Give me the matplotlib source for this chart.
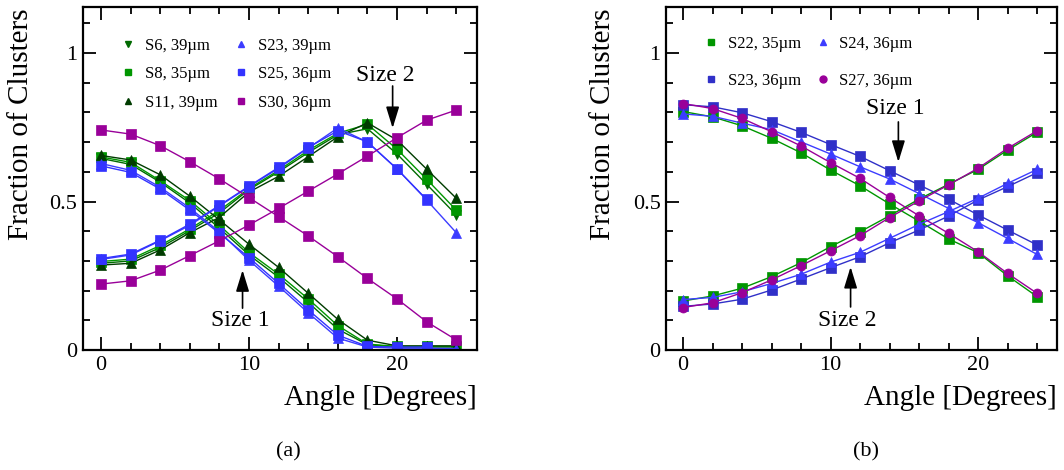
import numpy as np
import matplotlib
matplotlib.use("Agg")
import matplotlib.pyplot as plt
from matplotlib.lines import Line2D
from matplotlib.ticker import MultipleLocator

plt.rcParams['font.family'] = ['Liberation Serif', 'DejaVu Serif']

# angles in degrees
angles = [0, 2, 4, 6, 8, 10, 12, 14, 16, 18, 20, 22, 24]
angles_s25 = [0, 2, 4, 6, 8, 10, 12, 14, 16, 18, 20, 22]

# panel (a): fraction of size 1 clusters
a_s6_size1 = [0.645, 0.625, 0.565, 0.495, 0.41, 0.32, 0.245, 0.16, 0.07, 0.018, 0.01, 0.01, 0.01]
a_s8_size1 = [0.65, 0.632, 0.57, 0.503, 0.42, 0.328, 0.255, 0.172, 0.082, 0.02, 0.012, 0.012, 0.012]
a_s11_size1 = [0.655, 0.64, 0.59, 0.518, 0.438, 0.356, 0.278, 0.191, 0.103, 0.033, 0.014, 0.014, 0.014]
a_s23_size1 = [0.628, 0.605, 0.548, 0.478, 0.398, 0.302, 0.215, 0.125, 0.04, 0.01, 0.006, 0.006, 0.005]
a_s25_size1 = [0.62, 0.598, 0.542, 0.471, 0.393, 0.311, 0.224, 0.135, 0.05, 0.012, 0.01, 0.01]
a_s30_size1 = [0.741, 0.727, 0.688, 0.634, 0.576, 0.513, 0.449, 0.384, 0.314, 0.241, 0.172, 0.095, 0.034]

# panel (a): fraction of size 2 clusters
a_s6_size2 = [0.292, 0.3, 0.345, 0.402, 0.462, 0.54, 0.6, 0.665, 0.725, 0.745, 0.66, 0.558, 0.455]
a_s8_size2 = [0.298, 0.306, 0.352, 0.408, 0.47, 0.544, 0.605, 0.672, 0.73, 0.76, 0.676, 0.575, 0.471]
a_s11_size2 = [0.286, 0.292, 0.337, 0.395, 0.447, 0.532, 0.585, 0.651, 0.718, 0.765, 0.707, 0.609, 0.511]
a_s23_size2 = [0.305, 0.32, 0.368, 0.42, 0.485, 0.55, 0.612, 0.68, 0.748, 0.70, 0.61, 0.505, 0.395]
a_s25_size2 = [0.308, 0.323, 0.37, 0.424, 0.487, 0.552, 0.615, 0.682, 0.738, 0.701, 0.609, 0.507]
a_s30_size2 = [0.222, 0.233, 0.269, 0.318, 0.368, 0.421, 0.477, 0.535, 0.593, 0.653, 0.715, 0.774, 0.808]

# panel (b): fraction of size 1 clusters
b_s22_size1 = [0.803, 0.785, 0.755, 0.713, 0.664, 0.606, 0.553, 0.492, 0.434, 0.374, 0.328, 0.25, 0.18]
b_s24_size1 = [0.795, 0.787, 0.764, 0.742, 0.701, 0.66, 0.617, 0.576, 0.527, 0.477, 0.429, 0.376, 0.322]
b_s23_size1 = [0.826, 0.819, 0.799, 0.769, 0.733, 0.692, 0.652, 0.604, 0.556, 0.508, 0.455, 0.404, 0.354]
b_s27_size1 = [0.83, 0.813, 0.78, 0.735, 0.687, 0.631, 0.578, 0.514, 0.452, 0.393, 0.331, 0.258, 0.191]

# panel (b): fraction of size 2 clusters
b_s22_size2 = [0.165, 0.182, 0.208, 0.247, 0.294, 0.348, 0.398, 0.452, 0.508, 0.558, 0.608, 0.673, 0.733]
b_s24_size2 = [0.17, 0.177, 0.196, 0.224, 0.255, 0.296, 0.329, 0.376, 0.423, 0.466, 0.511, 0.561, 0.608]
b_s23_size2 = [0.147, 0.155, 0.171, 0.202, 0.239, 0.277, 0.314, 0.361, 0.404, 0.451, 0.505, 0.55, 0.597]
b_s27_size2 = [0.143, 0.159, 0.193, 0.236, 0.284, 0.334, 0.385, 0.446, 0.502, 0.556, 0.612, 0.679, 0.738]

# series styles: (x, size1, size2, label, colour, marker)
series_a = [
    (angles, a_s6_size1, a_s6_size2, "S6, 39\u00b5m", "#006a00", "v"),
    (angles, a_s8_size1, a_s8_size2, "S8, 35\u00b5m", "#009600", "s"),
    (angles, a_s11_size1, a_s11_size2, "S11, 39\u00b5m", "#003c00", "^"),
    (angles, a_s23_size1, a_s23_size2, "S23, 39\u00b5m", "#3c3cff", "^"),
    (angles_s25, a_s25_size1, a_s25_size2, "S25, 36\u00b5m", "#3333ff", "s"),
    (angles, a_s30_size1, a_s30_size2, "S30, 36\u00b5m", "#990099", "s"),
]
series_b = [
    (angles, b_s22_size1, b_s22_size2, "S22, 35\u00b5m", "#009600", "s"),
    (angles, b_s23_size1, b_s23_size2, "S23, 36\u00b5m", "#3030c8", "s"),
    (angles, b_s24_size1, b_s24_size2, "S24, 36\u00b5m", "#3c3cff", "^"),
    (angles, b_s27_size1, b_s27_size2, "S27, 36\u00b5m", "#990099", "o"),
]

fig = plt.figure(figsize=(10.64, 4.70), dpi=100)
ax_a = fig.add_axes([0.078, 0.2553, 0.3703, 0.7298])
ax_b = fig.add_axes([0.626, 0.2553, 0.3675, 0.7298])


def draw_panel(ax, series, xlim):
    handles = []
    for x, s1, s2, label, col, mk in series:
        for ys in (s1, s2):
            ax.plot(x, ys, color=col, marker=mk, markersize=6.5, lw=1.0,
                    markeredgewidth=0.5)
        handles.append(Line2D([], [], color=col, marker=mk, linestyle="none",
                              markersize=5, label=label))
    ax.set_xlim(*xlim)
    ax.set_ylim(0, 1.155)
    ax.xaxis.set_major_locator(MultipleLocator(10))
    ax.xaxis.set_minor_locator(MultipleLocator(2))
    ax.yaxis.set_major_locator(MultipleLocator(0.5))
    ax.yaxis.set_minor_locator(MultipleLocator(0.1))
    ax.yaxis.set_major_formatter(plt.FuncFormatter(lambda v, p: "%g" % v))
    ax.tick_params(which="both", direction="in", top=True, right=True,
                   labelsize=16, width=1.3)
    ax.tick_params(which="major", length=9.5, pad=4)
    ax.tick_params(which="minor", length=5)
    for sp in ax.spines.values():
        sp.set_linewidth(1.6)
    return handles


def arrow(ax, text, tail, tip, textpos):
    ax.annotate("", xy=tip, xytext=tail,
                arrowprops=dict(arrowstyle="-|>,head_length=0.65,head_width=0.2",
                                color="black", lw=1.2, mutation_scale=20,
                                shrinkA=0, shrinkB=0))
    ax.text(textpos[0], textpos[1], text, fontsize=17, ha="center", va="center")


handles_a = draw_panel(ax_a, series_a, (-1.22, 25.4))
handles_b = draw_panel(ax_b, series_b, (-1.15, 25.36))

ax_a.legend(handles=handles_a, ncol=2, loc="upper left", frameon=False,
            fontsize=12, bbox_to_anchor=(0.06, 0.954), handlelength=0.8,
            handletextpad=0.6, columnspacing=1.0, labelspacing=0.75)
ax_b.legend(handles=handles_b, ncol=2, loc="upper left", frameon=False,
            fontsize=12, bbox_to_anchor=(0.06, 0.96), handlelength=0.8,
            handletextpad=0.6, columnspacing=0.9, labelspacing=1.27)

arrow(ax_a, "Size 2", (19.7, 0.889), (19.7, 0.747), (19.2, 0.926))
arrow(ax_a, "Size 1", (9.56, 0.141), (9.56, 0.269), (9.39, 0.098))
arrow(ax_b, "Size 1", (14.6, 0.768), (14.6, 0.633), (14.42, 0.814))
arrow(ax_b, "Size 2", (11.36, 0.145), (11.36, 0.28), (11.1, 0.101))

# axis titles
for xpix, ypix in ((21, 9), (603, 9)):
    fig.text(xpix / 1064, 1 - ypix / 470, "Fraction of Clusters", rotation=90,
             fontsize=21, ha="center", va="top")
for xpix in (477, 1057):
    fig.text(xpix / 1064, 1 - 405 / 470, "Angle [Degrees]", fontsize=21,
             ha="right", va="baseline")

fig.text(288 / 1064, 1 - 452 / 470, "(a)", fontsize=16, ha="center", va="center")
fig.text(866 / 1064, 1 - 452 / 470, "(b)", fontsize=16, ha="center", va="center")

fig.savefig("out.png", dpi=100)
